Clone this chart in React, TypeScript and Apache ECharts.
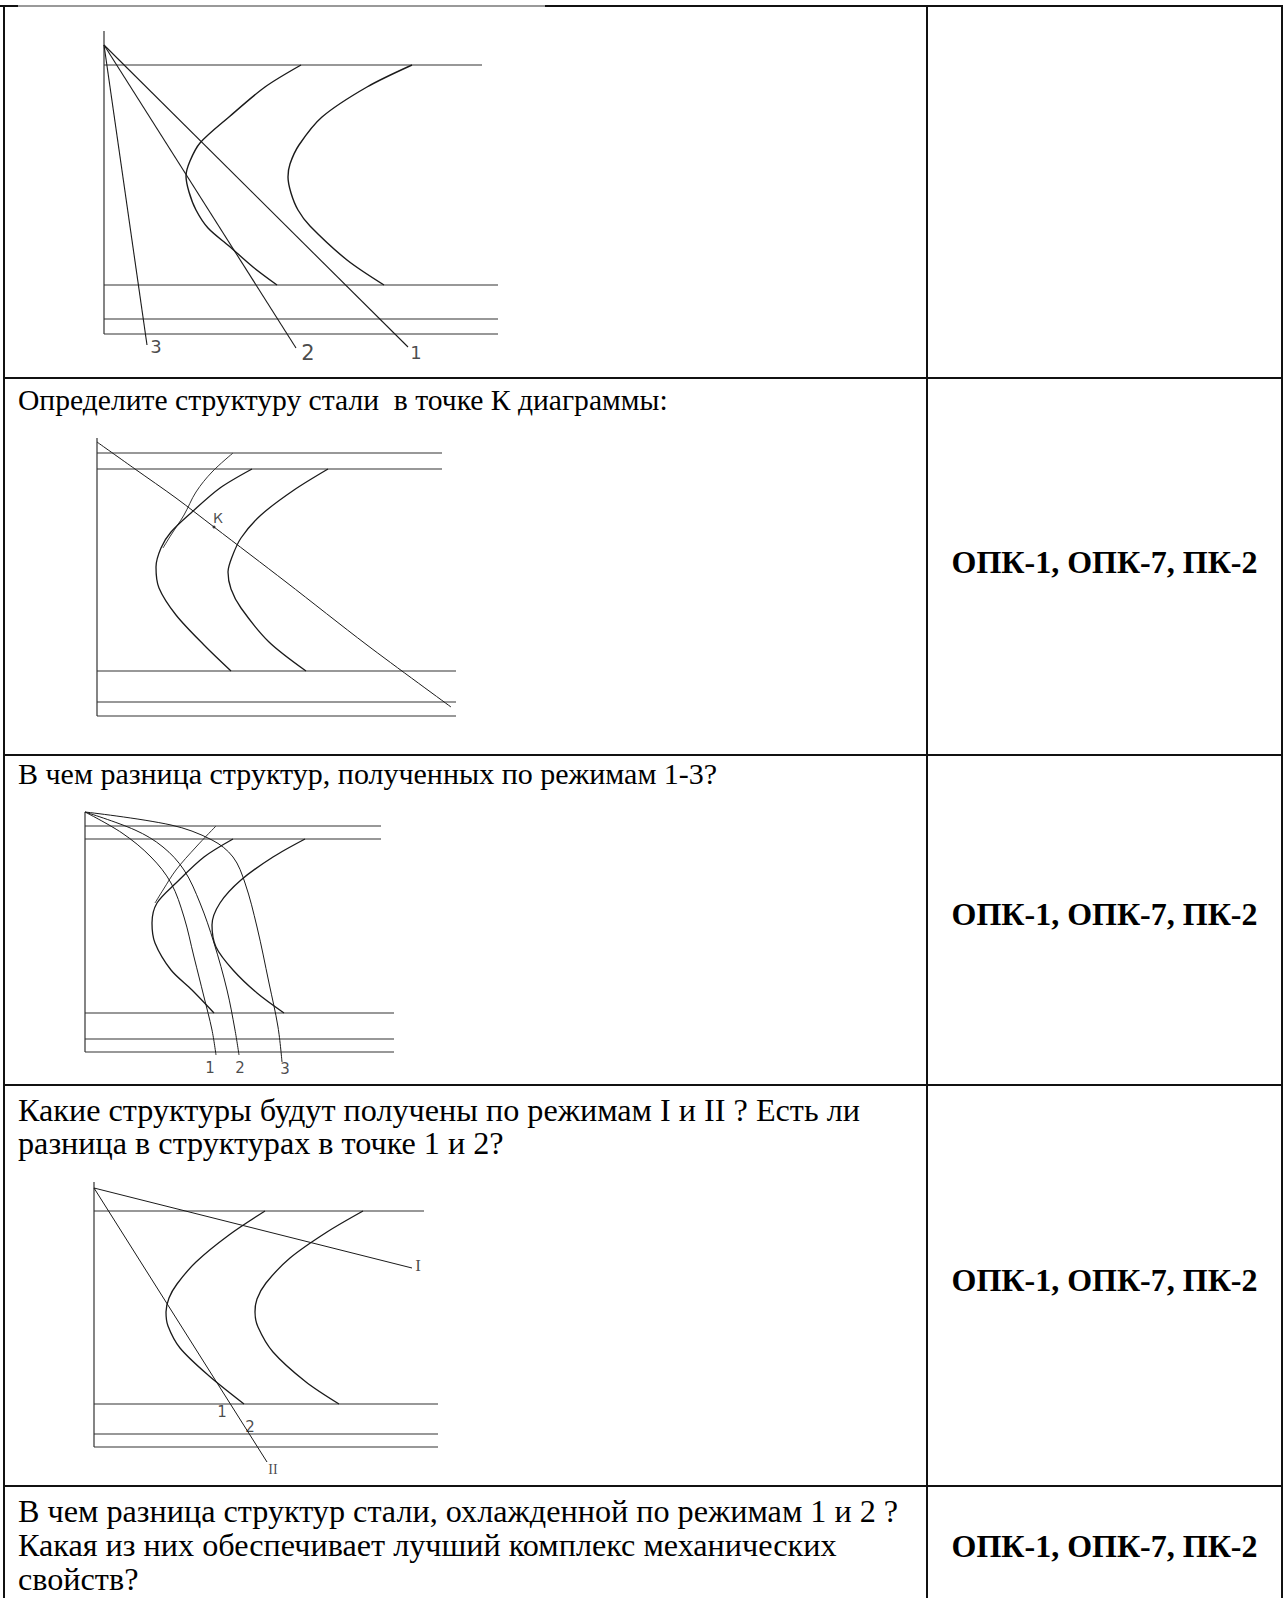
import React, { useEffect, useRef } from "react";
import * as echarts from "echarts";

// ---------- Texts of the table ----------
const questionRows: string[][] = [
  [],
  ["Определите структуру стали  в точке К диаграммы:"],
  ["В чем разница структур, полученных по режимам 1-3?"],
  ["Какие структуры будут получены по режимам I и II ? Есть ли", "разница в структурах в точке 1 и 2?"],
  ["В чем разница структур стали, охлажденной по режимам 1 и 2 ?", "Какая из них обеспечивает лучший комплекс механических", "свойств?"],
];
const competenceRows: string[] = ["", "ОПК-1, ОПК-7, ПК-2", "ОПК-1, ОПК-7, ПК-2", "ОПК-1, ОПК-7, ПК-2", "ОПК-1, ОПК-7, ПК-2"];

// ---------- Diagram 1: cooling modes 1–3 (x = time, y = temperature) ----------
const d1Top = 303;
const d1Levels = [269, 49, 15, 0];
const d1LevelEnds = [378, 394, 394, 394];
const d1Start = [[197, 269], [161, 247], [125, 217], [96, 191], [86, 173], [82, 158], [85, 142], [92, 124], [104, 106], [125, 88], [149, 67], [173, 49]];
const d1End = [[308, 269], [263, 247], [218, 217], [195, 189], [186, 170], [184, 157], [187, 141], [194, 124], [206, 108], [243, 74], [280, 49]];
const d1Origin = [0, 289];
const d1ModeEnds = [[304, -13], [192, -14], [43, -11]];
const d1ModeNames = ["1", "2", "3"];

// ---------- Diagram 2: point K ----------
const d2Top = 278;
const d2Levels = [263, 247, 45, 14, 0];
const d2LevelEnds = [345, 345, 359, 359, 359];
const d2Cooling = [[0, 274], [38, 247], [79, 218], [117, 189], [189, 134], [270, 71], [354, 9]];
const d2Thin = [[136, 263], [115, 244], [99, 224], [87, 201], [74, 181], [66, 168]];
const d2Start = [[155, 247], [123, 228], [95, 204], [74, 184], [64, 168], [59, 149], [62, 128], [79, 101], [107, 71], [134, 45]];
const d2End = [[231, 247], [197, 226], [164, 201], [144, 178], [135, 159], [131, 144], [134, 127], [144, 108], [172, 74], [209, 45]];
const d2PointK = [117, 189];

// ---------- Diagram 3: modes 1–3 (curved) ----------
const d3Top = 240;
const d3Levels = [226, 213, 39, 13, 0];
const d3LevelEnds = [296, 296, 309, 309, 309];
const d3Mode1 = [[0, 240], [37, 219], [66, 195], [86, 169], [99, 135], [109, 95], [119, 55], [127, 22], [131, -3]];
const d3Mode2 = [[0, 240], [50, 222], [78, 205], [99, 182], [115, 149], [129, 109], [142, 62], [150, 22], [154, -3]];
const d3Mode3 = [[0, 240], [86, 227], [127, 212], [148, 195], [160, 169], [172, 125], [184, 69], [193, 25], [197, -10]];
const d3ModeNames = ["1", "2", "3"];
const d3Thin = [[131, 226], [111, 205], [91, 182], [78, 162], [70, 149]];
const d3Start = [[148, 213], [119, 195], [91, 169], [72, 149], [67, 129], [70, 109], [86, 82], [107, 62], [129, 39]];
const d3End = [[220, 213], [188, 195], [156, 172], [135, 149], [127, 127], [131, 105], [148, 82], [172, 59], [199, 39]];

// ---------- Diagram 4: modes I and II ----------
const d4Top = 265;
const d4Levels = [236, 43, 13, 0];
const d4LevelEnds = [330, 344, 344, 344];
const d4Origin = [0, 259];
const d4ModeEnds = [[318, 179], [173, -15]];
const d4ModeNames = ["I", "II"];
const d4Points = [[128, 35], [156, 20]];
const d4PointNames = ["1", "2"];
const d4Start = [[171, 236], [135, 212], [102, 185], [83, 163], [75, 149], [72, 135], [74, 121], [86, 99], [114, 72], [150, 43]];
const d4End = [[269, 236], [233, 215], [196, 189], [172, 164], [163, 148], [161, 135], [164, 120], [179, 95], [212, 65], [245, 43]];

// ---------- layout ----------
const W = 1286;
const H = 1598;
const tableLeft = 4;
const tableRight = 1282;
const tableTop = 6;
const colDivider = 927;
const rowLines = [378, 755, 1085, 1486];
const textStartX = 18;
const textFirstY = [0, 400, 773, 1110, 1511];
const textLineGap = [0, 34, 34, 33, 34];
const textSize = [30, 29.6, 30, 32.2, 32.2];
const competenceY = [0, 562, 914, 1280, 1546];
const diagramBoxes = [
  { axisX: 104, bottomY: 334, x: [-5, 420], y: [-25, 310] },
  { axisX: 97, bottomY: 716, x: [-5, 370], y: [-5, 285] },
  { axisX: 85, bottomY: 1052, x: [-5, 320], y: [-25, 245] },
  { axisX: 94, bottomY: 1447, x: [-5, 360], y: [-30, 270] },
];
const INK = "#1a1a1a";
const SERIF = "'Liberation Serif', 'Times New Roman', serif";
const SANS = "'DejaVu Sans', Verdana, sans-serif";

function line(grid: number, data: number[][], width = 1.2, smooth: number | boolean = false, color = INK) {
  return {
    type: "line",
    xAxisIndex: grid,
    yAxisIndex: grid,
    data,
    symbol: "none",
    showSymbol: false,
    smooth,
    clip: false,
    silent: true,
    lineStyle: { color, width },
  };
}

function levels(grid: number, lv: number[], ends: number[]) {
  return lv.map((y, i) => line(grid, [[0, y], [ends[i], y]], 1.2, false, "#333"));
}

function labels(grid: number, items: { value: number[]; name: string; offset: number[]; size: number; font?: string }[]) {
  return {
    type: "scatter",
    xAxisIndex: grid,
    yAxisIndex: grid,
    symbolSize: 1,
    silent: true,
    clip: false,
    itemStyle: { color: "rgba(0,0,0,0)" },
    data: items.map((it) => ({
      value: it.value,
      name: it.name,
      label: {
        show: true,
        position: "inside",
        formatter: "{b}",
        offset: it.offset,
        fontSize: it.size,
        fontFamily: it.font || SANS,
        color: INK,
      },
    })),
  };
}

function buildOption() {
  const grids = diagramBoxes.map((b) => ({
    left: b.axisX + b.x[0],
    width: b.x[1] - b.x[0],
    top: b.bottomY - b.y[1],
    height: b.y[1] - b.y[0],
    containLabel: false,
  }));
  const xAxes = diagramBoxes.map((b, i) => ({ type: "value", gridIndex: i, min: b.x[0], max: b.x[1], show: false }));
  const yAxes = diagramBoxes.map((b, i) => ({ type: "value", gridIndex: i, min: b.y[0], max: b.y[1], show: false }));

  const series: any[] = [];
  // Diagram 1
  series.push(line(0, [[0, 0], [0, d1Top]], 1.2, false, "#333"));
  series.push(...levels(0, d1Levels, d1LevelEnds));
  series.push(line(0, d1Start, 1.4, 0.3));
  series.push(line(0, d1End, 1.4, 0.3));
  d1ModeEnds.forEach((e) => series.push(line(0, [d1Origin, e], 1.1)));
  const d1Off = [[8, 5], [12, 5], [9, 1]];
  series.push(labels(0, d1ModeEnds.map((e, i) => ({ value: e, name: d1ModeNames[i], offset: d1Off[i], size: i === 1 ? 21 : 18 }))));

  // Diagram 2
  series.push(line(1, [[0, 0], [0, d2Top]], 1.2, false, "#333"));
  series.push(...levels(1, d2Levels, d2LevelEnds));
  series.push(line(1, d2Cooling, 1.0, 0.3));
  series.push(line(1, d2Thin, 1.0, 0.35, "#333"));
  series.push(line(1, d2Start, 1.3, 0.3));
  series.push(line(1, d2End, 1.3, 0.3));
  series.push({
    type: "scatter",
    xAxisIndex: 1,
    yAxisIndex: 1,
    symbolSize: 3,
    silent: true,
    itemStyle: { color: INK },
    data: [{ value: d2PointK, name: "К" }],
    label: { show: true, position: "inside", formatter: "{b}", offset: [4, -9], fontSize: 14, fontFamily: SANS, color: INK },
  });

  // Diagram 3
  series.push(line(2, [[0, 0], [0, d3Top]], 1.2, false, "#333"));
  series.push(...levels(2, d3Levels, d3LevelEnds));
  series.push(line(2, d3Thin, 1.0, 0.35, "#333"));
  series.push(line(2, d3Start, 1.3, 0.3));
  series.push(line(2, d3End, 1.3, 0.3));
  const d3Modes = [d3Mode1, d3Mode2, d3Mode3];
  d3Modes.forEach((m) => series.push(line(2, m, 1.0, 0.35)));
  const d3Off = [[-6, 13], [1, 13], [3, 7]];
  series.push(labels(2, d3Modes.map((m, i) => ({ value: m[m.length - 1], name: d3ModeNames[i], offset: d3Off[i], size: 15 }))));

  // Diagram 4
  series.push(line(3, [[0, 0], [0, d4Top]], 1.2, false, "#333"));
  series.push(...levels(3, d4Levels, d4LevelEnds));
  series.push(line(3, d4Start, 1.3, 0.3));
  series.push(line(3, d4End, 1.3, 0.3));
  d4ModeEnds.forEach((e) => series.push(line(3, [d4Origin, e], 1.0)));
  const d4Off = [[6, -3], [6, 7]];
  const d4Size = [17, 14];
  series.push(labels(3, d4ModeEnds.map((e, i) => ({ value: e, name: d4ModeNames[i], offset: d4Off[i], size: d4Size[i], font: SERIF }))));
  series.push(labels(3, d4Points.map((p, i) => ({ value: p, name: d4PointNames[i], offset: [0, 0], size: 15 }))));

  // Table and texts
  const graphic: any[] = [];
  const stroke = { stroke: "#111", lineWidth: 2 };
  const hline = (x1: number, x2: number, y: number, st: any = stroke) =>
    graphic.push({ type: "line", shape: { x1, y1: y, x2, y2: y }, style: st, silent: true });
  const vline = (x: number, y1: number, y2: number) =>
    graphic.push({ type: "line", shape: { x1: x, y1, x2: x, y2 }, style: stroke, silent: true });
  hline(0, 18, tableTop);
  hline(18, 545, tableTop, { stroke: "#777", lineWidth: 1.5 });
  hline(545, tableRight + 1, tableTop);
  vline(tableLeft, tableTop, H);
  vline(tableRight, tableTop, H);
  vline(colDivider, tableTop, H);
  rowLines.forEach((y) => hline(tableLeft, tableRight, y));

  questionRows.forEach((lines, r) => {
    lines.forEach((t, k) => {
      graphic.push({
        type: "text",
        x: textStartX,
        y: textFirstY[r] + k * textLineGap[r],
        silent: true,
        style: {
          text: t,
          fontSize: textSize[r],
          fontFamily: SERIF,
          fill: "#000",
          textAlign: "left",
          textVerticalAlign: "middle",
          align: "left",
          verticalAlign: "middle",
        },
      });
    });
  });
  competenceRows.forEach((t, r) => {
    if (!t) return;
    graphic.push({
      type: "text",
      x: (colDivider + tableRight) / 2,
      y: competenceY[r],
      silent: true,
      style: {
        text: t,
        fontSize: 32,
        fontWeight: "bold",
        fontFamily: SERIF,
        fill: "#000",
        textAlign: "center",
        textVerticalAlign: "middle",
        align: "center",
        verticalAlign: "middle",
      },
    });
  });

  return {
    animation: false,
    backgroundColor: "#ffffff",
    grid: grids,
    xAxis: xAxes,
    yAxis: yAxes,
    series,
    graphic,
  };
}

export default function App() {
  const ref = useRef<HTMLDivElement>(null);
  useEffect(() => {
    document.body.style.margin = "0";
    const chart = echarts.init(ref.current as HTMLDivElement, null, { renderer: "svg" });
    chart.setOption(buildOption() as any);
    return () => chart.dispose();
  }, []);
  return (
    <div
      ref={ref}
      style={{ position: "absolute", left: 0, top: 0, width: W, height: H, background: "#fff" }}
    />
  );
}
